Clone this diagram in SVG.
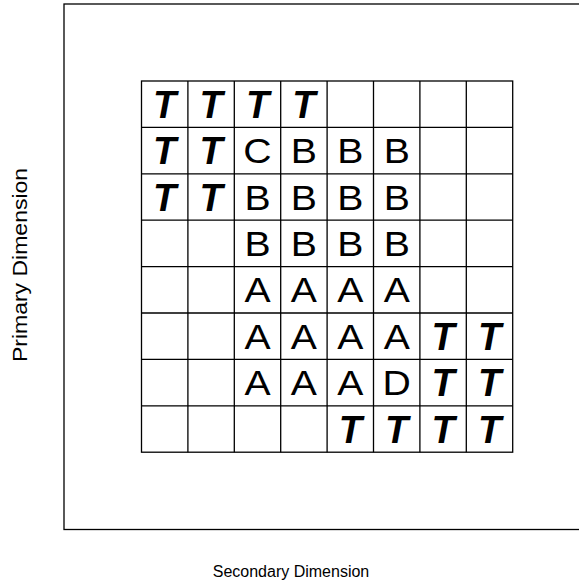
<svg xmlns="http://www.w3.org/2000/svg" width="579" height="586" viewBox="0 0 579 586">
<style>
.ln{stroke:#000;stroke-width:1.3;fill:none}
.c{font-family:"Liberation Sans",Arial,sans-serif;font-size:35px;text-anchor:middle;fill:#000}
.t{font-family:"Liberation Sans",Arial,sans-serif;font-size:38px;font-weight:bold;font-style:italic;text-anchor:middle;fill:#000}
.lab{font-family:"Liberation Sans",Arial,sans-serif;font-size:16px;text-anchor:middle;fill:#000}
</style>
<rect width="579" height="586" fill="#fff"/>
<g id="frame"><rect class="ln" x="64" y="4" width="520" height="525.5"/></g>
<g id="grid" class="ln">
<rect x="141.5" y="81" width="371.2" height="371.2"/>
<path d="M187.9 81V452.2M234.3 81V452.2M280.7 81V452.2M327.1 81V452.2M373.5 81V452.2M419.9 81V452.2M466.3 81V452.2M141.5 127.4H512.7M141.5 173.8H512.7M141.5 220.2H512.7M141.5 266.6H512.7M141.5 313H512.7M141.5 359.4H512.7M141.5 405.8H512.7"/>
</g>
<g id="cells">
<g id="r0">
<text class="t" x="164.7" y="117.8">T</text>
<text class="t" x="211.1" y="117.8">T</text>
<text class="t" x="257.5" y="117.8">T</text>
<text class="t" x="303.9" y="117.8">T</text>
</g>
<g id="r1">
<text class="t" x="164.7" y="164.2">T</text>
<text class="t" x="211.1" y="164.2">T</text>
<text class="c" transform="translate(257.5,163.1) scale(1.12,1)">C</text>
<text class="c" transform="translate(303.9,163.1) scale(1.12,1)">B</text>
<text class="c" transform="translate(350.3,163.1) scale(1.12,1)">B</text>
<text class="c" transform="translate(396.7,163.1) scale(1.12,1)">B</text>
</g>
<g id="r2">
<text class="t" x="164.7" y="210.6">T</text>
<text class="t" x="211.1" y="210.6">T</text>
<text class="c" transform="translate(257.5,209.5) scale(1.12,1)">B</text>
<text class="c" transform="translate(303.9,209.5) scale(1.12,1)">B</text>
<text class="c" transform="translate(350.3,209.5) scale(1.12,1)">B</text>
<text class="c" transform="translate(396.7,209.5) scale(1.12,1)">B</text>
</g>
<g id="r3">
<text class="c" transform="translate(257.5,255.9) scale(1.12,1)">B</text>
<text class="c" transform="translate(303.9,255.9) scale(1.12,1)">B</text>
<text class="c" transform="translate(350.3,255.9) scale(1.12,1)">B</text>
<text class="c" transform="translate(396.7,255.9) scale(1.12,1)">B</text>
</g>
<g id="r4">
<text class="c" transform="translate(257.5,302.3) scale(1.12,1)">A</text>
<text class="c" transform="translate(303.9,302.3) scale(1.12,1)">A</text>
<text class="c" transform="translate(350.3,302.3) scale(1.12,1)">A</text>
<text class="c" transform="translate(396.7,302.3) scale(1.12,1)">A</text>
</g>
<g id="r5">
<text class="c" transform="translate(257.5,348.7) scale(1.12,1)">A</text>
<text class="c" transform="translate(303.9,348.7) scale(1.12,1)">A</text>
<text class="c" transform="translate(350.3,348.7) scale(1.12,1)">A</text>
<text class="c" transform="translate(396.7,348.7) scale(1.12,1)">A</text>
<text class="t" x="443.1" y="349.8">T</text>
<text class="t" x="489.5" y="349.8">T</text>
</g>
<g id="r6">
<text class="c" transform="translate(257.5,395.1) scale(1.12,1)">A</text>
<text class="c" transform="translate(303.9,395.1) scale(1.12,1)">A</text>
<text class="c" transform="translate(350.3,395.1) scale(1.12,1)">A</text>
<text class="c" transform="translate(396.7,395.1) scale(1.12,1)">D</text>
<text class="t" x="443.1" y="396.2">T</text>
<text class="t" x="489.5" y="396.2">T</text>
</g>
<g id="r7">
<text class="t" x="350.3" y="442.6">T</text>
<text class="t" x="396.7" y="442.6">T</text>
<text class="t" x="443.1" y="442.6">T</text>
<text class="t" x="489.5" y="442.6">T</text>
</g>
</g>
<g id="labels">
<text class="lab" x="291" y="577">Secondary Dimension</text>
<text class="lab" transform="translate(27,265) rotate(-90) scale(1.15,1)" style="font-size:20px">Primary Dimension</text>
</g>
</svg>
